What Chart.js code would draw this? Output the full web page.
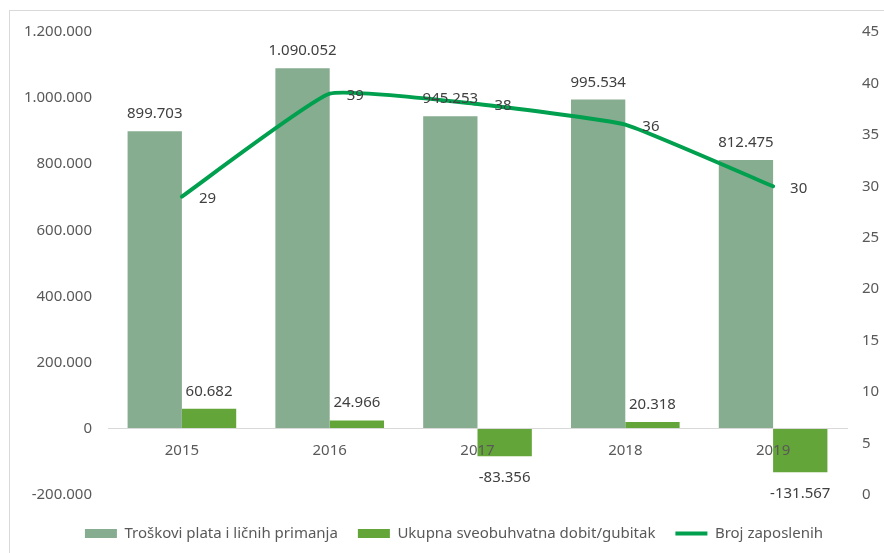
<!DOCTYPE html>
<html>
<head>
<meta charset="utf-8">
<script src="https://cdn.jsdelivr.net/npm/chart.js@4.4.1/dist/chart.umd.min.js"></script>
<style>
html,body{margin:0;padding:0;background:#ffffff;}
#wrap{width:884px;height:553px;position:relative;}
</style>
</head>
<body>
<div id="wrap"><canvas id="c" width="884" height="553"></canvas></div>
<script>
const categories = ['2015', '2016', '2017', '2018', '2019'];
const seriesNames = ['Troškovi plata i ličnih primanja', 'Ukupna sveobuhvatna dobit/gubitak', 'Broj zaposlenih'];
const troskovi = [899703, 1090052, 945253, 995534, 812475];
const dobit = [60682, 24966, -83356, 20318, -131567];
const zaposleni = [29, 39, 38, 36, 30];
const leftAxis = { min: -200000, max: 1200000, step: 200000 };
const rightAxis = { min: 0, max: 45, step: 5 };

const FONT = "'Noto Sans', 'Open Sans', sans-serif";

function fmt(v) {
  const s = Math.abs(Math.round(v)).toString().replace(/\B(?=(\d{3})+(?!\d))/g, '.');
  return (v < 0 ? '-' : '') + s;
}

const frame = {
  id: 'frame',
  afterLayout(chart) {
    if (chart.legend) {
      chart.legend.left += 12;
      chart.legend.right += 12;
    }
  },
  beforeDraw(chart) {
    const ctx = chart.ctx;
    ctx.save();
    ctx.strokeStyle = '#d9d9d9';
    ctx.lineWidth = 1;
    ctx.strokeRect(9.5, 10.5, chart.width + 20, chart.height + 20);
    ctx.restore();
  }
};

const valueLabels = {
  id: 'valueLabels',
  afterDatasetsDraw(chart) {
    const ctx = chart.ctx;
    ctx.save();
    ctx.font = '15px ' + FONT;
    ctx.fillStyle = '#404040';
    [0, 1].forEach(di => {
      const meta = chart.getDatasetMeta(di);
      const data = chart.data.datasets[di].data;
      meta.data.forEach((el, i) => {
        const v = data[i];
        ctx.textAlign = 'center';
        ctx.textBaseline = 'alphabetic';
        if (v >= 0) {
          ctx.fillText(fmt(v), el.x, el.y - 13);
        } else {
          ctx.fillText(fmt(v), el.x, el.y + 26);
        }
      });
    });
    const lm = chart.getDatasetMeta(2);
    const ld = chart.data.datasets[2].data;
    lm.data.forEach((el, i) => {
      ctx.textAlign = 'left';
      ctx.textBaseline = 'middle';
      ctx.fillText(String(ld[i]), el.x + 17, el.y + 2);
    });
    ctx.restore();
  }
};

new Chart(document.getElementById('c'), {
  data: {
    labels: categories,
    datasets: [
      {
        type: 'bar',
        label: seriesNames[0],
        data: troskovi,
        backgroundColor: '#87ad91',
        borderWidth: 0,
        yAxisID: 'y',
        order: 2,
        pointStyle: 'rect',
        categoryPercentage: 0.735,
        barPercentage: 1.0
      },
      {
        type: 'bar',
        label: seriesNames[1],
        data: dobit,
        backgroundColor: '#63a538',
        borderWidth: 0,
        yAxisID: 'y',
        order: 2,
        pointStyle: 'rect',
        categoryPercentage: 0.735,
        barPercentage: 1.0
      },
      {
        type: 'line',
        label: seriesNames[2],
        data: zaposleni,
        borderColor: '#00a04f',
        backgroundColor: '#00a04f',
        borderWidth: 4,
        borderCapStyle: 'round',
        borderJoinStyle: 'round',
        pointRadius: 0,
        pointHoverRadius: 0,
        tension: 0.12,
        yAxisID: 'y1',
        order: 1,
        pointStyle: 'line'
      }
    ]
  },
  options: {
    responsive: false,
    animation: false,
    events: [],
    layout: { padding: { top: 32, bottom: 2, left: 0, right: 0 } },
    plugins: {
      legend: {
        position: 'bottom',
        title: { display: true, text: ' ', font: { size: 1 }, padding: { top: 10, bottom: 0 } },
        labels: {
          usePointStyle: true,
          pointStyleWidth: 32,
          boxHeight: 9,
          padding: 20,
          color: '#595959',
          font: { family: FONT, size: 15 },
          sort: (a, b) => a.datasetIndex - b.datasetIndex
        }
      },
      tooltip: { enabled: false }
    },
    scales: {
      x: {
        type: 'category',
        position: { y: 0 },
        grid: { display: false, drawTicks: false },
        border: { display: true, color: '#d9d9d9', width: 1, z: 1 },
        ticks: { color: '#595959', font: { family: FONT, size: 15 }, padding: 13, maxRotation: 0, z: 1 }
      },
      y: {
        type: 'linear',
        position: 'left',
        min: leftAxis.min,
        max: leftAxis.max,
        grid: { display: false, drawTicks: false },
        border: { display: false },
        ticks: {
          stepSize: leftAxis.step,
          color: '#595959',
          font: { family: FONT, size: 15 },
          padding: 16,
          callback: v => fmt(v)
        },
        afterFit(scale) { scale.width = 108; }
      },
      y1: {
        type: 'linear',
        position: 'right',
        min: rightAxis.min,
        max: rightAxis.max,
        grid: { display: false, drawTicks: false },
        border: { display: false },
        ticks: {
          stepSize: rightAxis.step,
          color: '#595959',
          font: { family: FONT, size: 15 },
          padding: 15
        },
        afterFit(scale) { scale.width = 37; }
      }
    }
  },
  plugins: [frame, valueLabels]
});
</script>
</body>
</html>
